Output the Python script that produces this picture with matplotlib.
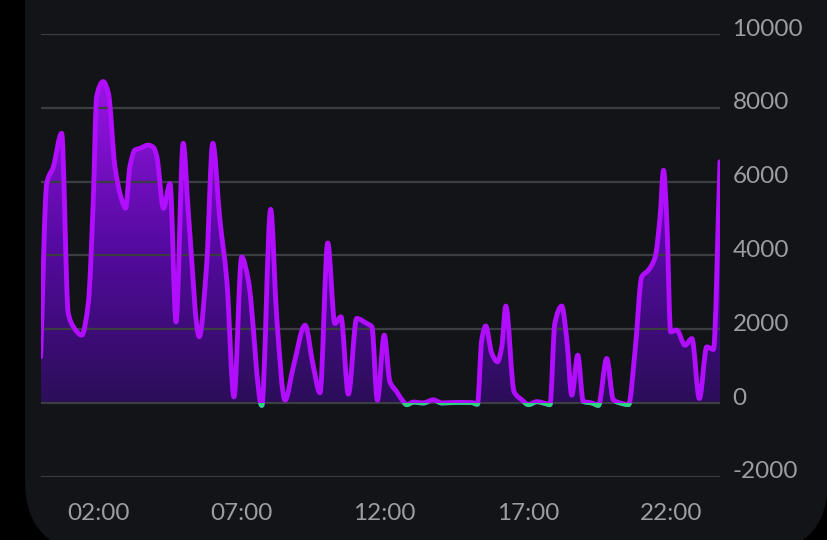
import matplotlib
matplotlib.use("Agg")
import matplotlib.pyplot as plt
import numpy as np
from matplotlib.colors import LinearSegmentedColormap
from matplotlib.patches import FancyBboxPatch, PathPatch, Rectangle
from matplotlib.path import Path
from matplotlib.transforms import IdentityTransform, ScaledTranslation

# hours since midnight and the reading (W) at each point
horas = [0.00, 0.21, 0.44, 0.73, 0.96, 1.14, 1.43, 1.66, 1.83, 1.95,
         2.18, 2.36, 2.59, 2.83, 2.96, 3.11, 3.29, 3.46, 3.75, 3.93,
         4.05, 4.28, 4.51, 4.72, 4.97, 5.15, 5.53, 5.79, 6.00, 6.25,
         6.49, 6.74, 7.01, 7.24, 7.71, 8.02, 8.23, 8.52, 8.81, 9.22,
         9.51, 9.74, 10.01, 10.26, 10.47, 10.73, 11.02, 11.37, 11.55, 11.74,
         11.98, 12.18, 12.42, 12.59, 12.77, 13.00, 13.34, 13.69, 13.99, 14.51,
         15.03, 15.23, 15.38, 15.52, 15.73, 15.93, 16.08, 16.22, 16.51, 16.78,
         17.01, 17.30, 17.65, 17.76, 17.93, 18.17, 18.35, 18.52, 18.73, 18.92,
         19.22, 19.45, 19.74, 19.97, 20.21, 20.50, 20.73, 20.96, 21.19, 21.43,
         21.60, 21.72, 21.83, 21.97, 22.18, 22.47, 22.71, 22.97, 23.23, 23.46,
         23.69]
valores = [1255, 5960, 6400, 7310, 2440, 2070, 1843, 2710, 5420, 8300,
           8710, 8400, 6400, 5500, 5280, 6400, 6860, 6900, 6990, 6930,
           6680, 5280, 5950, 2200, 7040, 5150, 1800, 3790, 7040, 4960,
           3330, 170, 3960, 3330, -60, 5250, 2340, 80, 985, 2110,
           985, 280, 4340, 2160, 2340, 244, 2295, 2160, 2070, 80,
           1843, 577, 306, 100, -40, 30, 5, 90, 5, 20,
           15, -30, 1710, 2090, 1350, 1120, 1525, 2630, 306, 90,
           -40, 40, -20, -40, 2160, 2630, 1710, 217, 1300, 50,
           5, -60, 1210, 90, 5, -40, 1436, 3420, 3600, 3960,
           5050, 6310, 5050, 1930, 1980, 1570, 1750, 127, 1525, 1455,
           6540]

yticks = [-2000, 0, 2000, 4000, 6000, 8000, 10000]
xticks = [2, 7, 12, 17, 22]
xlabels = ["02:00", "07:00", "12:00", "17:00", "22:00"]

FUNDO = "#121418"
ROXO = "#b10dff"
VERDE = "#27d67b"
TEXTO = "#9a9da2"


def curva_suave(x, y):
    # monotone cubic through the points, as bezier segments
    h = np.diff(x)
    d = np.diff(y) / h
    m = np.zeros(len(x))
    m[0], m[-1] = d[0], d[-1]
    for i in range(1, len(x) - 1):
        if d[i - 1] * d[i] > 0:
            w1 = 2 * h[i] + h[i - 1]
            w2 = h[i] + 2 * h[i - 1]
            m[i] = (w1 + w2) / (w1 / d[i - 1] + w2 / d[i])
    verts = [(x[0], y[0])]
    codes = [Path.MOVETO]
    for i in range(len(x) - 1):
        verts += [(x[i] + h[i] / 3, y[i] + m[i] * h[i] / 3),
                  (x[i + 1] - h[i] / 3, y[i + 1] - m[i + 1] * h[i] / 3),
                  (x[i + 1], y[i + 1])]
        codes += [Path.CURVE4] * 3
    return verts, codes


plt.rcParams["font.family"] = ["Lato", "DejaVu Sans"]

fig = plt.figure(figsize=(8.28, 5.4), dpi=100, facecolor="black")
cartao = FancyBboxPatch((25, -12), 803, 640, boxstyle="round,pad=0,rounding_size=72",
                        transform=IdentityTransform(), facecolor=FUNDO, edgecolor="none",
                        zorder=-10)
fig.add_artist(cartao)

ax = fig.add_axes([40.7 / 828, 63 / 540, (720 - 40.7) / 828, 443 / 540])
ax.patch.set_visible(False)

x = np.array(horas, dtype=float)
y = np.array(valores, dtype=float)
verts, codes = curva_suave(x, y)
linha = Path(verts, codes)
area = Path(verts + [(x[-1], 0), (x[0], 0), (x[0], y[0])],
            codes + [Path.LINETO, Path.LINETO, Path.CLOSEPOLY])

# preenchimento em gradiente
cmap = LinearSegmentedColormap.from_list("grad", ["#2b0e58", "#560aa2", "#9a14e6"])
grad = np.linspace(0, 1, 256).reshape(-1, 1)
img = ax.imshow(grad, extent=[x[0], x[-1], 0, y.max()], origin="lower", aspect="auto",
                cmap=cmap, zorder=1)
img.set_clip_path(area, transform=ax.transData)

ax.add_patch(PathPatch(linha, facecolor="none", edgecolor=ROXO, lw=3.5,
                       joinstyle="round", capstyle="round", zorder=4))
verde = PathPatch(linha, facecolor="none", edgecolor=VERDE, lw=3.5,
                  joinstyle="round", zorder=5)
ax.add_patch(verde)
verde.set_clip_path(Rectangle((-1, -3000), 30, 3000, transform=ax.transData))

ax.set_xlim(0, horas[-1])
ax.set_ylim(-2000, 10000)
ax.set_yticks(yticks)
ax.set_yticklabels([str(v) for v in yticks])
ax.set_xticks(xticks)
ax.set_xticklabels(xlabels)
ax.yaxis.tick_right()
ax.tick_params(axis="y", length=0, pad=9, labelsize=17.5, labelcolor=TEXTO)
ax.tick_params(axis="x", length=0, pad=19, labelsize=17.5, labelcolor=TEXTO)
ax.grid(axis="y", color="#3a3d42", lw=1.6, zorder=3)
ax.set_axisbelow(False)
for s in ax.spines.values():
    s.set_visible(False)

subir = ScaledTranslation(0, 0.07, fig.dpi_scale_trans)
for rot in ax.get_yticklabels():
    rot.set_transform(rot.get_transform() + subir)

fig.savefig("out.png", dpi=100, facecolor="black")
